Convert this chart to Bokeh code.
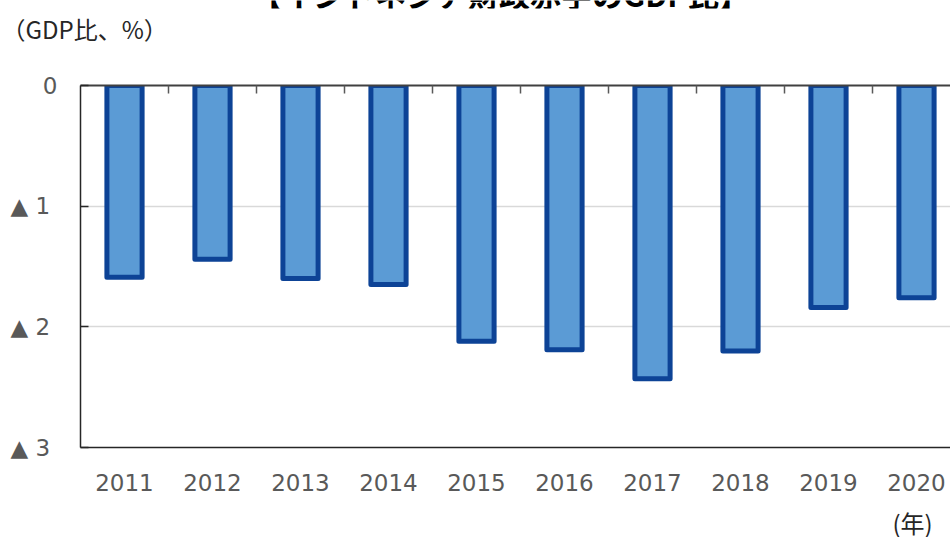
from bokeh.plotting import figure
from bokeh.layouts import column
from bokeh.models import Range1d, FixedTicker, LinearAxis, Label, ColumnDataSource, Title
from bokeh.embed import file_html
from bokeh.resources import INLINE

years = [2011, 2012, 2013, 2014, 2015, 2016, 2017, 2018, 2019, 2020]
deficit = [-1.59, -1.44, -1.60, -1.65, -2.12, -2.19, -2.43, -2.20, -1.84, -1.76]
y_ticks = [0, -1, -2, -3]
y_tick_labels = {0: "0", -1: "▲  1", -2: "▲  2", -3: "▲  3"}
title = "【インドネシア財政赤字のGDP比】"
unit_label = "（GDP比、%）"
x_unit = "(年)"

src = ColumnDataSource(dict(x=years, top=[0] * len(years), bottom=deficit))

FONT = "DejaVu Sans"
JP = "Noto Sans CJK JP"
W = 950
HA = 45           # header strip (title clipped at top, unit label below it)
HF = 32           # footer strip with the "(年)" label
FL, FB = 80, 447  # frame left, frame bottom (page px from top)


def strip(height):
    f = figure(width=W, height=height, output_backend="svg", toolbar_location=None,
               x_range=Range1d(0, 1), y_range=Range1d(0, 1),
               x_axis_location=None, y_axis_location=None,
               min_border=0, min_border_left=FL, min_border_right=0,
               min_border_top=0, min_border_bottom=0)
    f.outline_line_color = None
    f.grid.visible = False
    f.background_fill_color = "white"
    f.border_fill_color = "white"
    return f


# ---- header ----
h = strip(HA)
h.add_layout(Label(x=(500 - FL) / (W - FL), y=1, x_units="data", y_units="data",
                   y_offset=7, text=title,
                   text_font=JP, text_font_size="31px", text_font_style="bold",
                   text_align="center", text_baseline="middle", text_color="black"))
h.add_layout(Title(text=unit_label, align="left", offset=-FL + 1, standoff=0,
                   text_font=JP, text_font_size="24px", text_font_style="normal",
                   text_color="#262626"), "below")

# ---- main chart ----
HB = 537 - HA - HF
p = figure(width=W, height=HB, output_backend="svg", toolbar_location=None,
           x_range=Range1d(2010.5, 2010.5 + 870 / 88), y_range=Range1d(-3, 0),
           x_axis_location=None, y_axis_location=None,
           min_border_left=FL, min_border_right=0, min_border_top=85 - HA,
           min_border_bottom=(537 - HF) - FB)
p.outline_line_color = None
p.background_fill_color = "white"
p.border_fill_color = "white"

p.xgrid.visible = False
p.ygrid.ticker = FixedTicker(ticks=[-1, -2])
p.ygrid.grid_line_color = "#D9D9D9"
p.ygrid.grid_line_width = 1.5

p.vbar(x="x", top="top", bottom="bottom", width=0.4, source=src,
       fill_color="#5B9BD5", line_color="#0D4396", line_width=5, line_join="round")

ya = LinearAxis(ticker=FixedTicker(ticks=y_ticks), major_label_overrides=y_tick_labels)
ya.axis_line_color = "#262626"
ya.axis_line_width = 1.5
ya.major_tick_in = 8
ya.major_tick_out = 0
ya.major_tick_line_color = "#262626"
ya.major_tick_line_width = 1.5
ya.minor_tick_line_color = None
ya.major_label_standoff = 23
ya.major_label_text_font = FONT
ya.major_label_text_font_size = "23px"
ya.major_label_text_color = "#595959"
p.add_layout(ya, "left")

xa = LinearAxis(ticker=FixedTicker(ticks=years),
                major_label_overrides={y: str(y) for y in years})
xa.axis_line_color = "#262626"
xa.axis_line_width = 1.5
xa.major_tick_line_color = None
xa.minor_tick_line_color = None
xa.major_label_standoff = 20
xa.major_label_text_font = FONT
xa.major_label_text_font_size = "23px"
xa.major_label_text_color = "#595959"
p.add_layout(xa, "below")

ta = LinearAxis(ticker=FixedTicker(ticks=[y + 0.5 for y in years]))
ta.axis_line_color = "#404040"
ta.axis_line_width = 2
ta.major_tick_in = 8
ta.major_tick_out = 0
ta.major_tick_line_color = "#595959"
ta.major_tick_line_width = 1.5
ta.minor_tick_line_color = None
ta.major_label_standoff = 0
ta.major_label_text_font_size = "1px"
ta.major_label_text_color = None
p.add_layout(ta, "above")

# ---- footer ----
f = strip(HF)
f.add_layout(Label(x=(912 - FL) / (W - FL), y=0, x_units="data", y_units="data",
                   y_offset=537 - 522, text=x_unit,
                   text_font=JP, text_font_size="24px",
                   text_align="center", text_baseline="middle", text_color="#262626"))

open("out.html", "w").write(file_html(column(h, p, f, spacing=0), INLINE))
